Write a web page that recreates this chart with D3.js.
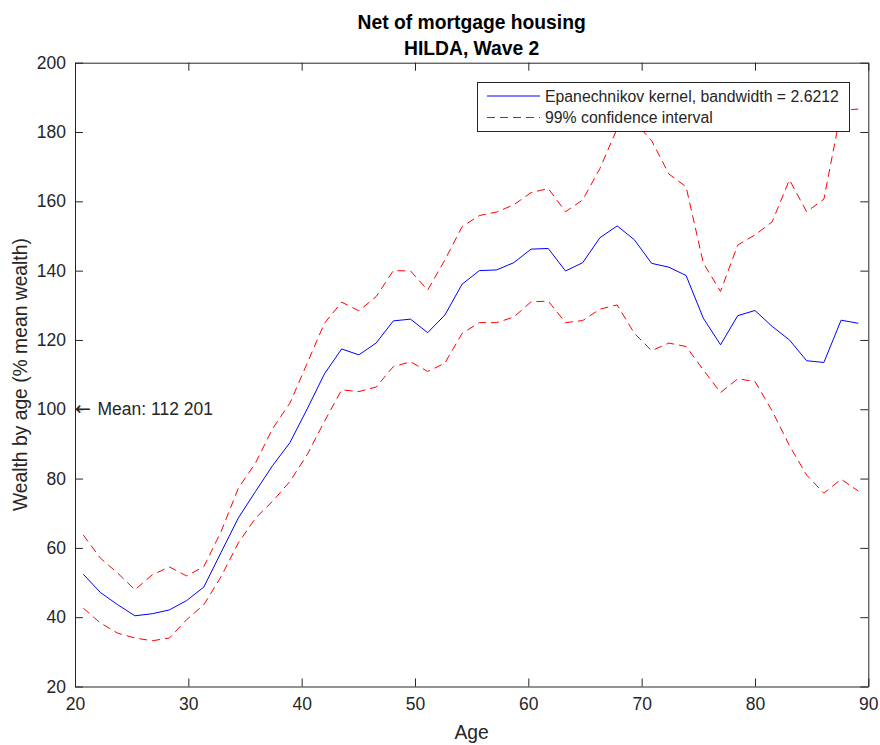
<!DOCTYPE html>
<html>
<head>
<meta charset="utf-8">
<script src="https://cdn.jsdelivr.net/npm/d3@7"></script>
<style>
  html, body { margin: 0; padding: 0; background: #fff; }
  svg { display: block; }
  text { font-family: "Liberation Sans", Arial, Helvetica, sans-serif; }
</style>
</head>
<body>
<svg id="chart" width="880" height="745"></svg>
<script>
// Kernel-smoothed wealth by age (per cent of mean wealth), with 99% bands
const ages = [20.73, 22.25, 23.77, 25.29, 26.81, 28.33, 29.85, 31.37, 32.89, 34.41,
              35.93, 37.45, 38.97, 40.49, 42.01, 43.53, 45.05, 46.57, 48.09, 49.61,
              51.12, 52.64, 54.16, 55.68, 57.20, 58.72, 60.24, 61.76, 63.28, 64.80,
              66.32, 67.84, 69.36, 70.88, 72.40, 73.92, 75.44, 76.96, 78.48, 80.00,
              81.52, 83.04, 84.56, 86.08, 87.60, 89.12];

const estimate = [52.4, 47.1, 43.6, 40.4, 41.0, 42.1, 44.8, 48.7, 58.7, 68.6,
                  76.3, 83.8, 90.4, 100.1, 110.2, 117.4, 115.7, 119.1, 125.5, 126.0,
                  122.1, 127.2, 136.1, 140.0, 140.2, 142.3, 146.2, 146.4, 139.9, 142.3,
                  149.5, 152.9, 148.9, 142.1, 141.0, 138.6, 126.3, 118.6, 127.0, 128.5,
                  123.9, 120.0, 114.0, 113.5, 125.7, 124.8];

const upper = [63.7, 57.0, 52.7, 47.9, 52.2, 54.5, 51.9, 54.6, 64.7, 77.2,
               84.5, 94.5, 101.8, 113.3, 124.8, 130.9, 128.4, 132.5, 140.0, 139.9,
               134.4, 143.1, 152.7, 155.9, 156.9, 159.0, 162.5, 163.7, 157.0, 160.4,
               169.5, 181.0, 183.0, 177.5, 167.9, 164.2, 142.2, 134.0, 147.4, 150.3,
               154.1, 166.2, 157.0, 160.6, 186.3, 186.6];

const lower = [42.6, 38.3, 35.4, 34.0, 33.2, 34.0, 39.3, 43.6, 51.7, 61.4,
               68.6, 73.5, 79.2, 86.9, 96.5, 105.6, 105.1, 106.4, 112.3, 113.7,
               110.9, 113.3, 121.9, 125.0, 125.0, 126.6, 131.0, 131.2, 125.0, 125.6,
               128.9, 130.1, 121.9, 116.9, 119.1, 118.1, 111.4, 104.8, 108.8, 108.0,
               99.5, 89.5, 81.0, 75.8, 79.8, 76.4];

const xTicks = [20, 30, 40, 50, 60, 70, 80, 90];
const yTicks = [20, 40, 60, 80, 100, 120, 140, 160, 180, 200];

const titleLines = ["Net of mortgage housing", "HILDA, Wave 2"];
const xLabel = "Age";
const yLabel = "Wealth by age (% mean wealth)";
const legendLabels = ["Epanechnikov kernel, bandwidth = 2.6212", "99% confidence interval"];
const meanLevel = 100;
const meanArrow = "\u2190";
const meanText = "Mean: 112 201";

const axisColor = "#262626";
const tickFont = 17.5;

const svg = d3.select("#chart");
const plotLeft = 75, plotRight = 868.3, plotTop = 62.7, plotBottom = 686.5;

const x = d3.scaleLinear().domain([20, 90]).range([plotLeft, plotRight]);
const y = d3.scaleLinear().domain([20, 200]).range([plotBottom, plotTop]);

svg.append("rect").attr("width", 880).attr("height", 745).attr("fill", "#fff");

svg.append("clipPath").attr("id", "plotClip")
  .append("rect")
  .attr("x", plotLeft).attr("y", plotTop)
  .attr("width", plotRight - plotLeft).attr("height", plotBottom - plotTop);

const plot = svg.append("g").attr("clip-path", "url(#plotClip)");

const line = (vals) => d3.line()
  .x((d, i) => x(ages[i]))
  .y(d => y(d))(vals);

plot.append("path")
  .attr("d", line(upper))
  .attr("fill", "none")
  .attr("stroke", "#ff0000")
  .attr("stroke-width", 1)
  .attr("stroke-dasharray", "8,5");

plot.append("path")
  .attr("d", line(lower))
  .attr("fill", "none")
  .attr("stroke", "#ff0000")
  .attr("stroke-width", 1)
  .attr("stroke-dasharray", "8,5");

plot.append("path")
  .attr("d", line(estimate))
  .attr("fill", "none")
  .attr("stroke", "#0000ff")
  .attr("stroke-width", 1);

// Axes with inward ticks on all four sides
function styleAxis(g) {
  g.select(".domain").attr("stroke", axisColor).attr("stroke-width", 1);
  g.selectAll(".tick line").attr("stroke", axisColor).attr("stroke-width", 1);
  g.selectAll(".tick text")
    .attr("fill", axisColor)
    .style("font-size", tickFont + "px")
    .style("font-family", '"Liberation Sans", Arial, sans-serif');
}

svg.append("g")
  .attr("transform", `translate(0,${plotBottom})`)
  .call(d3.axisBottom(x).tickValues(xTicks).tickSizeInner(-8).tickSizeOuter(0).tickPadding(11).tickFormat(d3.format("d")))
  .call(styleAxis);

svg.append("g")
  .attr("transform", `translate(0,${plotTop})`)
  .call(d3.axisTop(x).tickValues(xTicks).tickSizeInner(-8).tickSizeOuter(0).tickFormat(""))
  .call(styleAxis);

svg.append("g")
  .attr("transform", `translate(${plotLeft},0)`)
  .call(d3.axisLeft(y).tickValues(yTicks).tickSizeInner(-8).tickSizeOuter(0).tickPadding(9).tickFormat(d3.format("d")))
  .call(styleAxis);

svg.append("g")
  .attr("transform", `translate(${plotRight},0)`)
  .call(d3.axisRight(y).tickValues(yTicks).tickSizeInner(-8).tickSizeOuter(0).tickFormat(""))
  .call(styleAxis);

// Mean annotation: arrow pointing at the 100% level on the y axis
const meanLabel = svg.append("text")
  .attr("x", x(20))
  .attr("y", y(meanLevel))
  .attr("dy", "0.35em")
  .attr("fill", axisColor)
  .style("font-size", tickFont + "px");
meanLabel.append("tspan")
  .style("font-family", '"DejaVu Sans", sans-serif')
  .style("font-size", "19px")
  .text(meanArrow);
meanLabel.append("tspan")
  .attr("x", x(20) + 22.5)
  .text(meanText);

// Title
svg.append("text")
  .attr("x", (plotLeft + plotRight) / 2).attr("y", 29)
  .attr("text-anchor", "middle")
  .attr("fill", "#000")
  .style("font-size", "19.3px").style("font-weight", "bold")
  .text(titleLines[0]);
svg.append("text")
  .attr("x", (plotLeft + plotRight) / 2).attr("y", 55)
  .attr("text-anchor", "middle")
  .attr("fill", "#000")
  .style("font-size", "19.3px").style("font-weight", "bold")
  .text(titleLines[1]);

// Axis labels
svg.append("text")
  .attr("x", (plotLeft + plotRight) / 2).attr("y", 739)
  .attr("text-anchor", "middle")
  .attr("fill", axisColor)
  .style("font-size", "19.3px")
  .text(xLabel);

svg.append("text")
  .attr("transform", `translate(27,${(plotTop + plotBottom) / 2}) rotate(-90)`)
  .attr("text-anchor", "middle")
  .attr("fill", axisColor)
  .style("font-size", "19.3px")
  .text(yLabel);

// Legend
const lg = svg.append("g");
lg.append("rect")
  .attr("x", 477.5).attr("y", 82.5)
  .attr("width", 372).attr("height", 49)
  .attr("fill", "#fff")
  .attr("stroke", axisColor).attr("stroke-width", 1);

const legendItems = [
  { label: legendLabels[0], color: "#0000ff", dash: null, cy: 96 },
  { label: legendLabels[1], color: "#ff0000", dash: "8,5", cy: 117.5 }
];
legendItems.forEach(it => {
  lg.append("line")
    .attr("x1", 487).attr("x2", 540)
    .attr("y1", it.cy).attr("y2", it.cy)
    .attr("stroke", it.color).attr("stroke-width", 1)
    .attr("stroke-dasharray", it.dash);
  lg.append("text")
    .attr("x", 545).attr("y", it.cy)
    .attr("dy", "0.35em")
    .attr("fill", axisColor)
    .style("font-size", "15.8px")
    .text(it.label);
});
</script>
</body>
</html>
